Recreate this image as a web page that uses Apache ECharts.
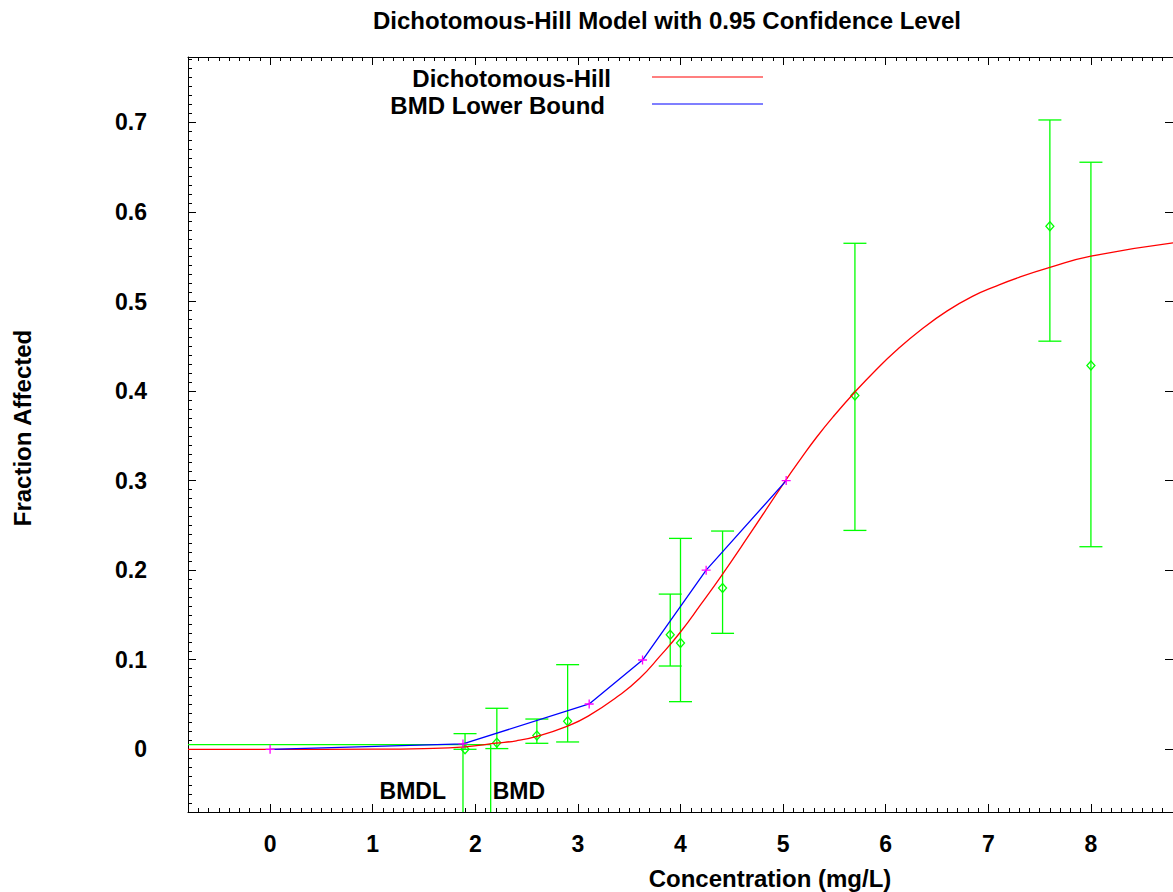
<!DOCTYPE html>
<html>
<head>
<meta charset="utf-8">
<script src="https://cdn.jsdelivr.net/npm/echarts@6/dist/echarts.min.js"></script>
<style>
html,body{margin:0;padding:0;background:#ffffff;}
#chart{width:1173px;height:892px;}
</style>
</head>
<body>
<div id="chart"></div>
<script>
// ---------- text ----------
const titleText = 'Dichotomous-Hill Model with 0.95 Confidence Level';
const xAxisName = 'Concentration (mg/L)';
const yAxisName = 'Fraction Affected';
const legendNames = ['Dichotomous-Hill', 'BMD Lower Bound'];
const bmdLabels = ['BMDL', 'BMD'];

// ---------- axes ----------
const xTicks = [0, 1, 2, 3, 4, 5, 6, 7, 8];
const yTicks = [0, 0.1, 0.2, 0.3, 0.4, 0.5, 0.6, 0.7];
const xRange = [-0.8, 8.8];
const yRange = [-0.07, 0.773];
const xMinorStep = 0.1;
const yMinorStep = 0.01;

// ---------- observed data with confidence limits ----------
const doses     = [1.90, 2.21, 2.60, 2.90, 3.90, 4.00, 4.41, 5.70, 7.60, 8.00];
const fractions = [0.000, 0.0074, 0.0153, 0.0313, 0.128, 0.1187, 0.180, 0.395, 0.584, 0.4286];
const lowerCI   = [0.000, 0.0008, 0.0067, 0.0082, 0.093, 0.0532, 0.1295, 0.2444, 0.4557, 0.2262];
const upperCI   = [0.0175, 0.0458, 0.0338, 0.0945, 0.1733, 0.2355, 0.2437, 0.565, 0.7027, 0.6555];

// ---------- fitted model curve ----------
const modelX = [-0.8, 0.0, 1.0, 1.5, 1.9, 2.2, 2.4, 2.6, 2.9, 3.1, 3.4, 3.6, 3.8, 4.0, 4.2, 4.4, 4.65, 5.02, 5.17, 5.33, 5.5, 5.7, 5.9, 6.1, 6.35, 6.6, 6.85, 7.07, 7.3, 7.6, 8.0, 8.8];
const modelY = [0.0, 0.0, 0.0001, 0.0008, 0.0028, 0.0068, 0.0095, 0.0145, 0.026, 0.037, 0.06, 0.079, 0.104, 0.131, 0.162, 0.194, 0.236, 0.2995, 0.324, 0.349, 0.373, 0.399, 0.423, 0.445, 0.469, 0.4895, 0.506, 0.517, 0.527, 0.538, 0.5506, 0.5655];

// ---------- BMD lower bound ----------
const boundX = [0.0, 1.88, 3.11, 3.63, 4.25, 5.03];
const boundY = [0.0, 0.006, 0.0506, 0.0997, 0.200, 0.300];

// ---------- BMD markers ----------
const bmr = 0.0052;
const bmdl = 1.88;
const bmd = 2.15;
const bmdLabelY = -0.047;

// ---------- build ----------
const FONT = '"Liberation Sans", Arial, Helvetica, sans-serif';
const GREEN = '#00ff00', RED = '#ff0000', BLUE = '#0000ff', MAGENTA = '#ff00ff';

const errData = doses.map((d, i) => [d, lowerCI[i], upperCI[i]]);
const pointData = doses.map((d, i) => [d, fractions[i]]);
const modelData = modelX.map((x, i) => [x, modelY[i]]);
const boundData = boundX.map((x, i) => [x, boundY[i]]);

const fmtY = v => String(Math.round(v * 10) / 10);

const chart = echarts.init(document.getElementById('chart'), null, {renderer: 'svg'});

const baseX = {type: 'value', min: xRange[0], max: xRange[1], splitLine: {show: false}};
const baseY = {type: 'value', min: yRange[0], max: yRange[1], splitLine: {show: false}};
const axisLine = {show: true, onZero: false, lineStyle: {color: '#000', width: 1}};
const noLine = {show: false, onZero: false};

const option = {
  animation: false,
  backgroundColor: '#ffffff',
  grid: {left: 188, top: 57, width: 990, height: 755, containLabel: false},
  xAxis: [
    Object.assign({}, baseX, {
      position: 'bottom',
      axisLine: axisLine,
      axisTick: {show: true, inside: true, length: 8, customValues: xTicks, lineStyle: {color: '#000'}},
      axisLabel: {show: true, customValues: xTicks, margin: 20, color: '#000', fontFamily: FONT, fontWeight: 'bold', fontSize: 23}
    }),
    Object.assign({}, baseX, {
      position: 'bottom', interval: xMinorStep,
      axisLine: noLine,
      axisTick: {show: true, inside: true, length: 4, lineStyle: {color: '#000'}},
      axisLabel: {show: false}
    }),
    Object.assign({}, baseX, {
      position: 'top',
      axisLine: axisLine,
      axisTick: {show: true, inside: true, length: 8, customValues: xTicks, lineStyle: {color: '#000'}},
      axisLabel: {show: false}
    }),
    Object.assign({}, baseX, {
      position: 'top', interval: xMinorStep,
      axisLine: noLine,
      axisTick: {show: true, inside: true, length: 4, lineStyle: {color: '#000'}},
      axisLabel: {show: false}
    })
  ],
  yAxis: [
    Object.assign({}, baseY, {
      position: 'left',
      axisLine: axisLine,
      axisTick: {show: true, inside: true, length: 8, customValues: yTicks, lineStyle: {color: '#000'}},
      axisLabel: {show: true, customValues: yTicks, margin: 41, color: '#000', fontFamily: FONT, fontWeight: 'bold', fontSize: 23, formatter: fmtY}
    }),
    Object.assign({}, baseY, {
      position: 'left', interval: yMinorStep,
      axisLine: noLine,
      axisTick: {show: true, inside: true, length: 4, lineStyle: {color: '#000'}},
      axisLabel: {show: false}
    }),
    Object.assign({}, baseY, {
      position: 'right',
      axisLine: axisLine,
      axisTick: {show: true, inside: true, length: 8, customValues: yTicks, lineStyle: {color: '#000'}},
      axisLabel: {show: false}
    })
  ],
  graphic: [
    {type: 'text', x: 667, y: 20, style: {text: titleText, fill: '#000', font: 'bold 24px ' + FONT, textAlign: 'center', textVerticalAlign: 'middle'}},
    {type: 'text', x: 770, y: 878, style: {text: xAxisName, fill: '#000', font: 'bold 24px ' + FONT, textAlign: 'center', textVerticalAlign: 'middle'}},
    {type: 'text', x: 22, y: 428, rotation: Math.PI / 2, style: {text: yAxisName, fill: '#000', font: 'bold 24px ' + FONT, textAlign: 'center', textVerticalAlign: 'middle'}},
    {type: 'text', x: 611, y: 78, style: {text: legendNames[0], fill: '#000', font: 'bold 24px ' + FONT, textAlign: 'right', textVerticalAlign: 'middle'}},
    {type: 'text', x: 605, y: 105, style: {text: legendNames[1], fill: '#000', font: 'bold 24px ' + FONT, textAlign: 'right', textVerticalAlign: 'middle'}},
    {type: 'line', shape: {x1: 652, y1: 77, x2: 763, y2: 77}, style: {stroke: RED, lineWidth: 1.2}},
    {type: 'line', shape: {x1: 652, y1: 104, x2: 763, y2: 104}, style: {stroke: BLUE, lineWidth: 1.2}}
  ],
  series: [
    {
      name: 'errorbars', type: 'custom', xAxisIndex: 0, yAxisIndex: 0, clip: true,
      data: errData,
      renderItem: function (params, api) {
        const x = api.value(0);
        const lo = api.coord([x, api.value(1)]);
        const hi = api.coord([x, api.value(2)]);
        const w = 11.5;
        const st = {stroke: GREEN, lineWidth: 1.3, fill: 'none'};
        return {type: 'group', children: [
          {type: 'line', shape: {x1: lo[0], y1: lo[1], x2: hi[0], y2: hi[1]}, style: st},
          {type: 'line', shape: {x1: lo[0] - w, y1: lo[1], x2: lo[0] + w, y2: lo[1]}, style: st},
          {type: 'line', shape: {x1: hi[0] - w, y1: hi[1], x2: hi[0] + w, y2: hi[1]}, style: st}
        ]};
      },
      z: 2
    },
    {
      name: 'observed', type: 'scatter', xAxisIndex: 0, yAxisIndex: 0,
      data: pointData, symbol: 'diamond', symbolSize: [8, 9],
      itemStyle: {color: 'rgba(0,0,0,0)', borderColor: GREEN, borderWidth: 1.3, opacity: 1},
      z: 3
    },
    {
      name: legendNames[0], type: 'line', xAxisIndex: 0, yAxisIndex: 0,
      data: modelData, smooth: 0.5, showSymbol: false, symbol: 'none',
      lineStyle: {color: RED, width: 1.3}, z: 4
    },
    {
      name: 'bmrLine', type: 'line', xAxisIndex: 0, yAxisIndex: 0,
      data: [[xRange[0], bmr], [bmd, bmr]], symbol: 'none',
      lineStyle: {color: GREEN, width: 1.3}, z: 3
    },
    {
      name: 'bmdlLine', type: 'line', xAxisIndex: 0, yAxisIndex: 0,
      data: [[bmdl, bmr], [bmdl, yRange[0]]], symbol: 'none',
      lineStyle: {color: GREEN, width: 1.3}, z: 3
    },
    {
      name: 'bmdLine', type: 'line', xAxisIndex: 0, yAxisIndex: 0,
      data: [[bmd, bmr], [bmd, yRange[0]]], symbol: 'none',
      lineStyle: {color: GREEN, width: 1.3}, z: 3
    },
    {
      name: legendNames[1], type: 'line', xAxisIndex: 0, yAxisIndex: 0,
      data: boundData, symbol: 'none',
      lineStyle: {color: BLUE, width: 1.3}, z: 5
    },
    {
      name: 'boundPoints', type: 'scatter', xAxisIndex: 0, yAxisIndex: 0,
      data: boundData, symbol: 'path://M0,5L10,5M5,0L5,10', symbolSize: 9,
      itemStyle: {color: 'rgba(0,0,0,0)', borderColor: MAGENTA, borderWidth: 1.3, opacity: 1},
      z: 6
    },
    {
      name: 'bmdLabels', type: 'scatter', xAxisIndex: 0, yAxisIndex: 0,
      symbolSize: 0,
      itemStyle: {opacity: 1},
      data: [
        {value: [bmdl, bmdLabelY], label: {position: 'left', distance: 17, formatter: bmdLabels[0]}},
        {value: [bmd, bmdLabelY], label: {position: 'right', distance: 2, formatter: bmdLabels[1]}}
      ],
      label: {show: true, color: '#000', opacity: 1, fontFamily: FONT, fontWeight: 'bold', fontSize: 23},
      z: 7
    }
  ]
};
chart.setOption(option);
</script>
</body>
</html>
